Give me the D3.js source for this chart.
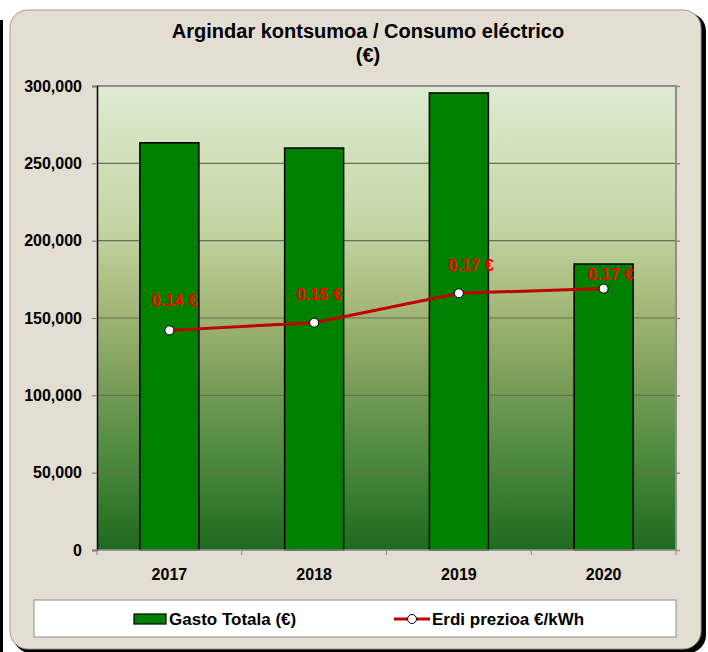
<!doctype html>
<html lang="en">
<head>
  <meta charset="utf-8">
  <script src="https://d3js.org/d3.v7.min.js"></script>
  <style>
    body { margin: 0; background: #fff; }
    text { font-family: "Liberation Sans", Arial, sans-serif; }
  </style>
</head>
<body>
  <script>
    // chart data
    var years = ["2017", "2018", "2019", "2020"];
    var gasto = [263300, 259900, 295500, 184900];      // Gasto Totala (€)
    var prezioa = [0.142, 0.147, 0.166, 0.169];        // Erdi prezioa €/kWh
    var yTicks = [0, 50000, 100000, 150000, 200000, 250000, 300000];

    var width = 708, height = 652;
    var plot = { left: 97, top: 86, right: 676, bottom: 550 };
    // hand-placed label nudges (dx, dy) like in the original sheet
    var labelNudge = [[5, -24], [5, -23], [12, -22], [7, -9]];

    var svg = d3.select("body").append("svg")
        .attr("width", width)
        .attr("height", height);

    var defs = svg.append("defs");

    // plot area gradient
    var grad = defs.append("linearGradient")
        .attr("id", "plotGrad")
        .attr("x1", 0).attr("y1", 0).attr("x2", 0).attr("y2", 1);
    [["0%", "#dfebd3"], ["30%", "#c3d6a3"], ["50%", "#9fb473"],
     ["62%", "#7fa05c"], ["80%", "#4d8a3e"], ["100%", "#1f6a1f"]]
      .forEach(function(s) {
        grad.append("stop").attr("offset", s[0]).attr("stop-color", s[1]);
      });

    // outer frame: black strip on the left, shadowed rounded panel
    svg.append("rect").attr("x", 0).attr("y", 20).attr("width", 3).attr("height", 632)
        .attr("fill", "#000");
    svg.append("rect").attr("x", 13).attr("y", 13).attr("width", 693).attr("height", 640)
        .attr("rx", 18).attr("fill", "#000");
    svg.append("rect").attr("x", 10).attr("y", 10).attr("width", 691).attr("height", 639)
        .attr("rx", 18).attr("fill", "#e4ded2").attr("stroke", "#a09a90").attr("stroke-width", 1);

    // title
    svg.append("text").attr("x", 368).attr("y", 38)
        .attr("text-anchor", "middle").attr("font-size", 20).attr("font-weight", "bold")
        .text("Argindar kontsumoa / Consumo eléctrico");
    svg.append("text").attr("x", 368).attr("y", 62)
        .attr("text-anchor", "middle").attr("font-size", 20).attr("font-weight", "bold")
        .text("(€)");

    // scales
    var x = d3.scaleBand().domain(years).range([plot.left, plot.right]).paddingInner(0).paddingOuter(0);
    var y = d3.scaleLinear().domain([0, 300000]).range([plot.bottom, plot.top]);
    var y2 = d3.scaleLinear().domain([0, 0.3]).range([plot.bottom, plot.top]);

    // plot background
    svg.append("rect")
        .attr("x", plot.left).attr("y", plot.top)
        .attr("width", plot.right - plot.left).attr("height", plot.bottom - plot.top)
        .attr("fill", "url(#plotGrad)");

    // gridlines
    svg.append("g").selectAll("line")
        .data(yTicks.filter(function(d) { return d > 0 && d < 300000; }))
      .enter().append("line")
        .attr("x1", plot.left).attr("x2", plot.right)
        .attr("y1", function(d) { return y(d); }).attr("y2", function(d) { return y(d); })
        .attr("stroke", "#646e58").attr("stroke-width", 1.2);

    // top and right border
    svg.append("line").attr("x1", plot.left).attr("x2", plot.right + 1)
        .attr("y1", plot.top).attr("y2", plot.top)
        .attr("stroke", "#8c8c8c").attr("stroke-width", 2);
    svg.append("line").attr("x1", plot.right).attr("x2", plot.right)
        .attr("y1", plot.top).attr("y2", plot.bottom)
        .attr("stroke", "#8c8c8c").attr("stroke-width", 2);

    // bars
    var barW = 59;
    svg.append("g").selectAll("rect")
        .data(gasto)
      .enter().append("rect")
        .attr("x", function(d, i) { return x(years[i]) + x.bandwidth() / 2 - barW / 2; })
        .attr("y", function(d) { return y(d); })
        .attr("width", barW)
        .attr("height", function(d) { return y(0) - y(d); })
        .attr("fill", "#008000")
        .attr("stroke", "#000")
        .attr("stroke-width", 1.5);

    // left axis
    var yAxis = svg.append("g")
        .attr("transform", "translate(" + plot.left + ",0)")
        .call(d3.axisLeft(y).tickValues(yTicks).tickSize(5).tickPadding(10)
          .tickFormat(d3.format(",")));
    yAxis.select(".domain").attr("stroke", "#000").attr("stroke-width", 1.5);
    yAxis.selectAll(".tick line").attr("stroke", "#777");
    yAxis.selectAll("text").attr("font-size", 16).attr("font-weight", "bold")
        .attr("fill", "#000").style("font-family", "'Liberation Sans', Arial, sans-serif");

    // right axis (ticks only)
    var y2Axis = svg.append("g")
        .attr("transform", "translate(" + plot.right + ",0)")
        .call(d3.axisRight(y).tickValues(yTicks).tickSize(4).tickFormat(""));
    y2Axis.select(".domain").remove();
    y2Axis.selectAll(".tick line").attr("stroke", "#8c8c8c").attr("stroke-width", 1.5);

    // bottom axis
    var bounds = years.map(function(d) { return x(d); }).concat([plot.right]);
    svg.append("line").attr("x1", plot.left).attr("x2", plot.right)
        .attr("y1", plot.bottom).attr("y2", plot.bottom)
        .attr("stroke", "#8c8c8c").attr("stroke-width", 1.5);
    svg.append("g").selectAll("line").data(bounds)
      .enter().append("line")
        .attr("x1", function(d) { return d; }).attr("x2", function(d) { return d; })
        .attr("y1", plot.bottom).attr("y2", plot.bottom + 5)
        .attr("stroke", "#8c8c8c").attr("stroke-width", 1);
    svg.append("g").selectAll("text").data(years)
      .enter().append("text")
        .attr("x", function(d) { return x(d) + x.bandwidth() / 2; })
        .attr("y", 580)
        .attr("text-anchor", "middle").attr("font-size", 16).attr("font-weight", "bold")
        .text(function(d) { return d; });

    // price line
    var line = d3.line()
        .x(function(d, i) { return x(years[i]) + x.bandwidth() / 2; })
        .y(function(d) { return y2(d); });
    svg.append("path").datum(prezioa)
        .attr("d", line)
        .attr("fill", "none").attr("stroke", "#c00000").attr("stroke-width", 3);
    svg.append("g").selectAll("circle").data(prezioa)
      .enter().append("circle")
        .attr("cx", function(d, i) { return x(years[i]) + x.bandwidth() / 2; })
        .attr("cy", function(d) { return y2(d); })
        .attr("r", 4.5)
        .attr("fill", "#fff").attr("stroke", "#000").attr("stroke-width", 1);
    svg.append("g").selectAll("text").data(prezioa)
      .enter().append("text")
        .attr("x", function(d, i) { return x(years[i]) + x.bandwidth() / 2 + labelNudge[i][0]; })
        .attr("y", function(d, i) { return y2(d) + labelNudge[i][1]; })
        .attr("text-anchor", "middle").attr("font-size", 16.5).attr("font-weight", "bold")
        .attr("fill", "#ff0000")
        .text(function(d) { return d3.format(".2f")(d) + " €"; });

    // legend
    var leg = svg.append("g");
    leg.append("rect").attr("x", 34).attr("y", 600).attr("width", 642).attr("height", 37)
        .attr("fill", "#fff").attr("stroke", "#8c8c8c").attr("stroke-width", 1);
    leg.append("rect").attr("x", 134).attr("y", 614).attr("width", 32).attr("height", 10)
        .attr("fill", "#008000").attr("stroke", "#000").attr("stroke-width", 1.2);
    leg.append("text").attr("x", 169).attr("y", 625).attr("font-size", 17).attr("font-weight", "bold")
        .text("Gasto Totala (€)");
    leg.append("line").attr("x1", 394).attr("x2", 430).attr("y1", 619).attr("y2", 619)
        .attr("stroke", "#c00000").attr("stroke-width", 3);
    leg.append("circle").attr("cx", 412).attr("cy", 619).attr("r", 4.5)
        .attr("fill", "#fff").attr("stroke", "#000").attr("stroke-width", 1);
    leg.append("text").attr("x", 432).attr("y", 625).attr("font-size", 17).attr("font-weight", "bold")
        .text("Erdi prezioa €/kWh");
  </script>
</body>
</html>
